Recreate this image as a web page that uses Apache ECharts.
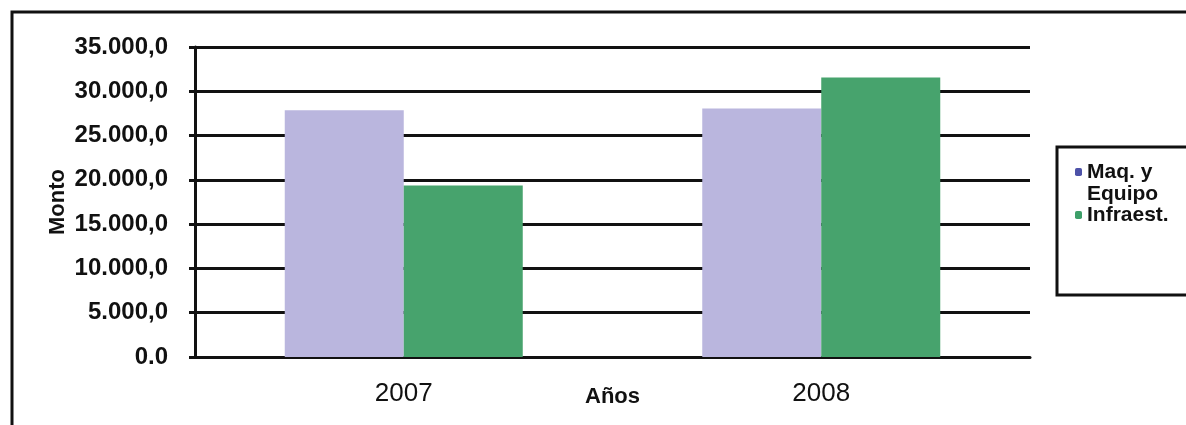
<!DOCTYPE html>
<html>
<head>
<meta charset="utf-8">
<script src="https://cdn.jsdelivr.net/npm/echarts@6/dist/echarts.min.js"></script>
<style>
  html, body { margin: 0; padding: 0; background: #fff; }
  #chart { width: 1186px; height: 425px; }
</style>
</head>
<body>
<div id="chart"></div>
<script>
const years = ['2007', '2008']
const maqEquipo = [27850, 28050]
const infraest = [19350, 31550]
const seriesNames = ['Maq. y Equipo', 'Infraest.']

const FONT = '"Liberation Sans", Arial, sans-serif'

// "35.000,0" style, but the zero label reads "0.0" in the original
const fmtMonto = v => {
    if ( v === 0 ) return '0.0'
    const s = String( Math.round( v ) ).replace( /\B(?=(\d{3})+(?!\d))/g, '.' )
    return s + ',0'
}

const chart = echarts.init( document.getElementById('chart') )

chart.setOption({
    animation : false,
    backgroundColor : '#fff',
    graphic : [
        { type : 'rect', shape : { x : 12, y : 12, width : 1200, height : 500 },
          style : { fill : 'none', stroke : '#111', lineWidth : 3 }, z : 0 },
        { type : 'rect', shape : { x : 1057, y : 147, width : 140, height : 148 },
          style : { fill : '#fff', stroke : '#111', lineWidth : 3 }, z : 1 },
    ],
    legend : {
        orient : 'vertical',
        left : 1075,
        top : 139,
        itemWidth : 7,
        itemHeight : 8,
        itemGap : -1,
        padding : 0,
        selectedMode : false,
        // empty first line so the icon sits next to "Maq. y", not between the two lines
        formatter : name => name === seriesNames[0] ? '\nMaq. y\nEquipo' : name,
        textStyle : { fontFamily : FONT, fontWeight : 'bold', fontSize : 21, color : '#111', lineHeight : 22 },
        data : [
            { name : seriesNames[0], itemStyle : { color : '#4d52a8' } },
            { name : seriesNames[1], itemStyle : { color : '#3d9f69' } },
        ],
        z : 5,
    },
    grid : { left : 195, right : 156, top : 47, bottom : 68 },
    xAxis : {
        type : 'category',
        data : years,
        name : 'Años',
        nameLocation : 'middle',
        nameGap : 29,
        nameMoveOverlap : false,
        nameTextStyle : { fontFamily : FONT, fontWeight : 'bold', fontSize : 22, color : '#111' },
        axisLine : { lineStyle : { color : '#111', width : 3 } },
        axisTick : { show : false },
        axisLabel : { margin : 24, fontFamily : FONT, fontSize : 26, color : '#111' },
    },
    yAxis : {
        type : 'value',
        min : 0,
        max : 35000,
        interval : 5000,
        name : 'Monto',
        nameLocation : 'middle',
        nameGap : 126,
        nameMoveOverlap : false,
        nameTextStyle : { fontFamily : FONT, fontWeight : 'bold', fontSize : 22, color : '#111' },
        axisLine : { show : true, lineStyle : { color : '#111', width : 3 } },
        axisTick : { show : true, inside : false, length : 6, lineStyle : { color : '#111', width : 3 } },
        splitLine : { lineStyle : { color : '#111', width : 3 } },
        axisLabel : { margin : 27, fontFamily : FONT, fontWeight : 'bold', fontSize : 24, color : '#111',
                      formatter : fmtMonto },
    },
    series : [
        { name : seriesNames[0], type : 'bar', data : maqEquipo, barWidth : 119, barGap : '0%',
          itemStyle : { color : '#bab6de' }, z : 3 },
        { name : seriesNames[1], type : 'bar', data : infraest, barWidth : 119,
          itemStyle : { color : '#47a36d' }, z : 3 },
    ],
})
</script>
</body>
</html>
